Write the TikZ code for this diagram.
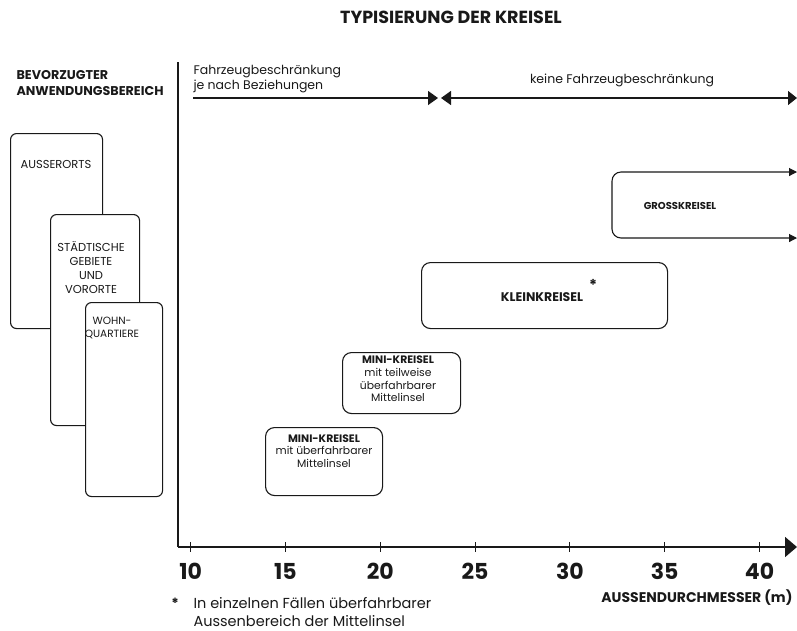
\documentclass[tikz,border=0pt]{standalone}
\usepackage{fontspec}
\setmainfont{Poppins}
\usetikzlibrary{positioning,arrows.meta}
\definecolor{ink}{RGB}{25,25,25}

\begin{document}
\begin{tikzpicture}[x=1pt, y=-1pt, >=Triangle, ink,
    lbox/.style={draw, fill=white, rounded corners=6pt, line width=1.1pt, inner sep=0pt},
    rbox/.style={draw, rounded corners=9pt, line width=1.1pt, inner sep=0pt},
    boxtext/.style={align=center, font=\fontsize{11.5}{14}\selectfont},
    minitext/.style={align=center, font=\fontsize{10.8}{12.6}\selectfont},
    ticklabel/.style={font=\fontsize{22}{22}\selectfont\bfseries}]

  % --- Frame ---
  \useasboundingbox (0,0) rectangle (797,630);

  % --- Title ---
  \node[font=\fontsize{17.5}{17.5}\selectfont\bfseries] (title) at (451,17) {TYPISIERUNG DER KREISEL};

  % --- Left: application areas ---
  \node[anchor=west, align=left, font=\fontsize{12.7}{16.5}\selectfont\bfseries] (bereich) at (13,83)
    {BEVORZUGTER\\ANWENDUNGSBEREICH};

  \node[lbox, anchor=north west, minimum width=92pt, minimum height=195pt] (ausser) at (10,133) {};
  \node[boxtext] (ausserT) at (56,164) {AUSSERORTS};

  \node[lbox, anchor=north west, minimum width=89pt, minimum height=211pt] (stadt) at (50,214) {};
  \node[boxtext] (stadtT) at (91,268) {STÄDTISCHE\\GEBIETE\\UND\\VORORTE};

  \node[lbox, anchor=north west, minimum width=77pt, minimum height=194pt] (wohn) at (85,302) {};
  \node[boxtext, font=\fontsize{10.5}{12.5}\selectfont] (wohnT) at (112,328) {WOHN-\\QUARTIERE};

  % --- Axes ---
  \coordinate (ytop) at (178,62);
  \coordinate (orig) at (178,547);
  \coordinate (xend) at (797,547);
  \draw[line width=2.2pt] (ytop) -- (orig);
  \draw[line width=1.6pt, -{Triangle[length=12pt,width=20pt]}] (orig) -- (xend);

  \foreach \d in {10,15,...,40} {
    \pgfmathsetmacro{\xd}{190.7+18.96*(\d-10)}
    \draw[line width=1pt] (\xd,542) -- (\xd,552);
    \node[ticklabel] (t\d) at (\xd,571) {\d};
  }

  \node[anchor=east, font=\fontsize{14}{14}\selectfont\bfseries] (achse) at (796,598)
    {AUSSENDURCHMESSER (m)};

  % --- Vehicle restriction arrows ---
  \coordinate (fzA) at (193,98);
  \coordinate (fzB) at (438,98);
  \coordinate (fzC) at (441,98);
  \coordinate (fzD) at (797,98);
  \draw[line width=1.4pt, -{Triangle[length=10pt,width=14pt]}] (fzA) -- (fzB);
  \draw[line width=1.4pt, {Triangle[length=10pt,width=14pt]}-{Triangle[length=9pt,width=14pt]}] (fzC) -- (fzD);

  \node[anchor=west, align=left, font=\fontsize{12.5}{15}\selectfont] (mitfz) at (190,79)
    {Fahrzeugbeschränkung\\je nach Beziehungen};
  \node[font=\fontsize{12.5}{15}\selectfont] (ohnefz) at (622,80) {keine Fahrzeugbeschränkung};

  % --- Roundabout types ---
  \coordinate (grA) at (797,172);
  \coordinate (grB) at (612,172);
  \coordinate (grC) at (612,238);
  \coordinate (grD) at (797,238);
  \draw[line width=1.1pt, rounded corners=9pt,
        {Triangle[length=8pt,width=8pt]}-{Triangle[length=8pt,width=8pt]}]
    (grA) -- (grB) -- (grC) -- (grD);
  \node[font=\fontsize{10}{10}\selectfont\bfseries] (gross) at (680,206) {GROSSKREISEL};

  \node[rbox, anchor=north west, minimum width=246pt, minimum height=66pt] (klein) at (421,262) {};
  \node[font=\fontsize{12.5}{12.5}\selectfont\bfseries] (kleinT) at (542,297) {KLEINKREISEL};
  \node[font=\fontsize{15}{15}\selectfont\bfseries] (stern) at (593,285) {*};

  \node[rbox, anchor=north west, minimum width=118pt, minimum height=61pt] (mini2) at (342,352) {};
  \node[minitext] (mini2T) at (398,379)
    {\textbf{MINI-KREISEL}\\mit teilweise\\überfahrbarer\\Mittelinsel};

  \node[rbox, anchor=north west, minimum width=117pt, minimum height=68pt] (mini1) at (265,427) {};
  \node[minitext] (mini1T) at (324,451)
    {\textbf{MINI-KREISEL}\\mit überfahrbarer\\Mittelinsel};

  % --- Footnote ---
  \node[font=\fontsize{14}{14}\selectfont\bfseries] (fnstern) at (175,603) {*};
  \node[anchor=west, align=left, font=\fontsize{14.5}{17.5}\selectfont] (fntext) at (190,612)
    {In einzelnen Fällen überfahrbarer\\Aussenbereich der Mittelinsel};

\end{tikzpicture}
\end{document}
